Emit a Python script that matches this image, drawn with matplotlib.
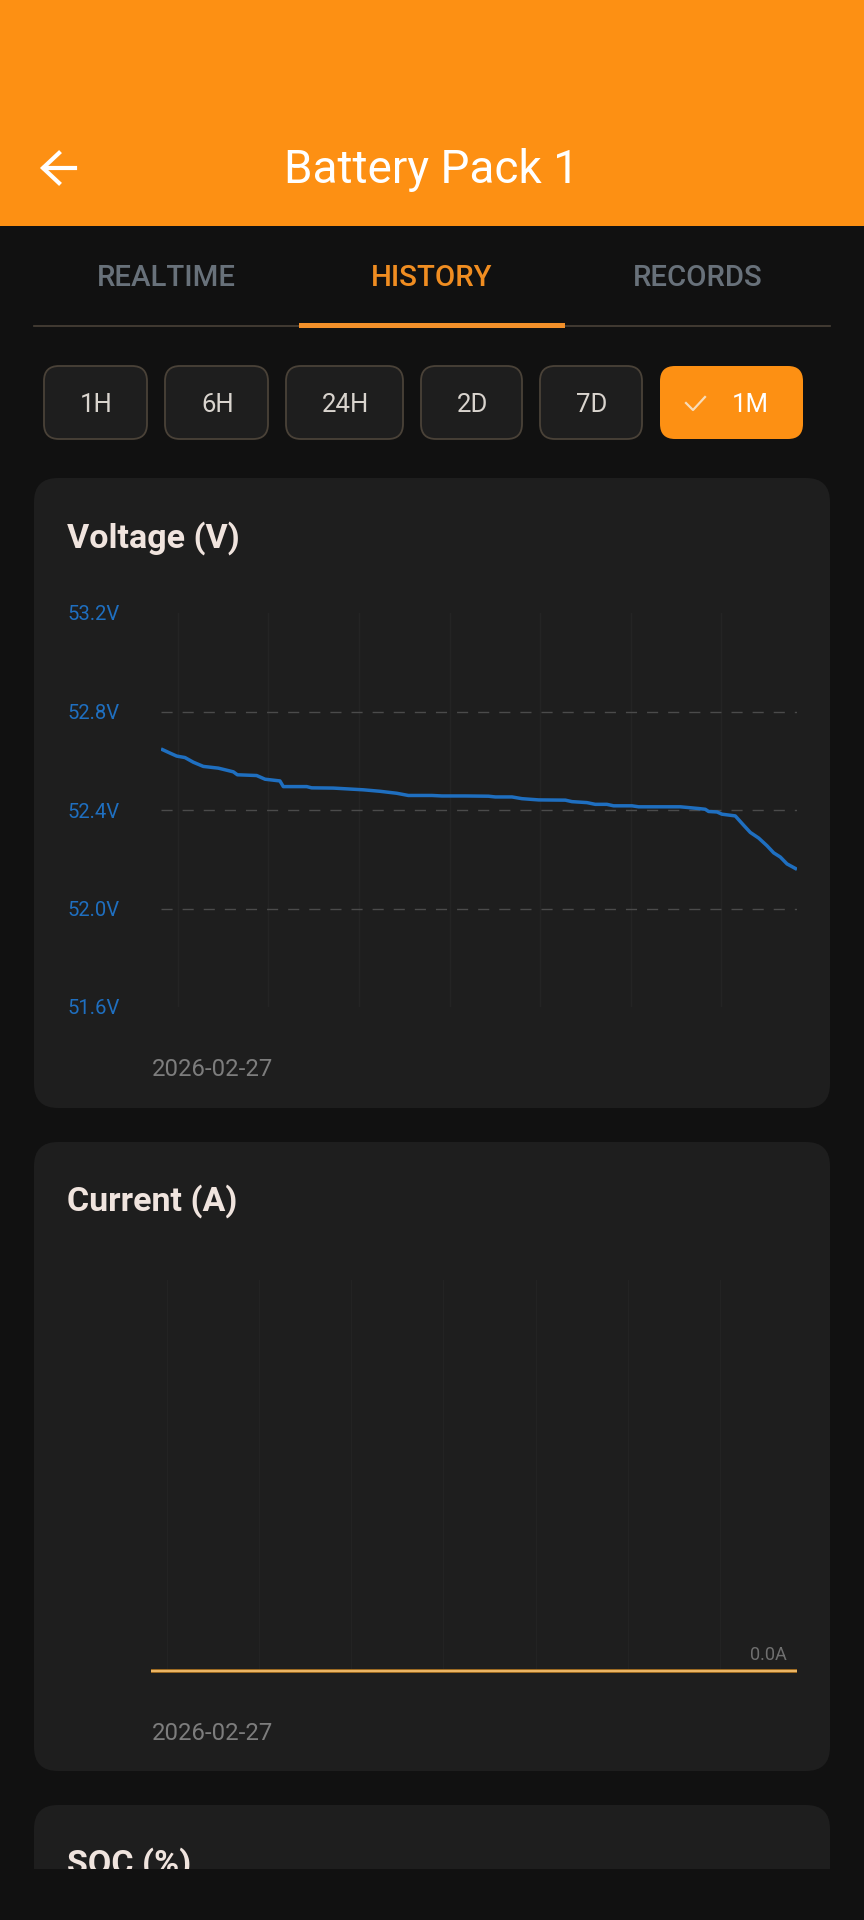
import matplotlib
matplotlib.use("Agg")
import matplotlib.pyplot as plt
from matplotlib.patches import FancyBboxPatch, Rectangle

plt.rcParams['font.family'] = ['Roboto', 'DejaVu Sans']

W, H = 864, 1920

# voltage history, x in days from the start of the window
volt_days = [0.0, 0.70, 1.21, 1.85, 2.50, 3.27, 4.43, 5.59, 5.90, 7.39, 8.04, 9.19, 9.45,
             11.26, 11.64, 13.31, 15.63, 16.92, 18.21, 19.11, 20.94, 21.71, 23.5, 25.3,
             25.83, 27.12, 27.89, 29.18, 31.24, 31.75, 32.91, 33.55, 34.45, 34.97, 36.39,
             36.9, 40.12, 41.54, 42.05, 42.31, 42.96, 43.34, 44.37, 45.02, 45.53, 46.18,
             46.82, 47.34, 47.85, 48.37, 49.14]
volt_values = [52.648, 52.631, 52.619, 52.613, 52.594, 52.577, 52.570, 52.555, 52.543, 52.540,
               52.525, 52.518, 52.495, 52.495, 52.490, 52.489, 52.482, 52.476, 52.468, 52.459,
               52.459, 52.457, 52.457, 52.456, 52.453, 52.453, 52.446, 52.441, 52.440, 52.434,
               52.430, 52.423, 52.423, 52.417, 52.417, 52.413, 52.413, 52.406, 52.403, 52.394,
               52.392, 52.383, 52.376, 52.338, 52.309, 52.286, 52.255, 52.226, 52.209, 52.181,
               52.159]
volt_ticks = [51.6, 52.0, 52.4, 52.8, 53.2]
volt_tick_labels = ['51.6V', '52.0V', '52.4V', '52.8V', '53.2V']
volt_grid = [52.0, 52.4, 52.8]
volt_week_lines = [1.3, 8.3, 15.3, 22.3, 29.3, 36.3, 43.3]

curr_days = [0, 49]
curr_values = [0.0, 0.0]
curr_week_lines = [1.18, 8.18, 15.18, 22.18, 29.18, 36.18, 43.18]

tabs = ['REALTIME', 'HISTORY', 'RECORDS']
ranges = ['1H', '6H', '24H', '2D', '7D', '1M']

ORANGE = '#fd9013'
BG = '#111111'
CARD = '#1e1e1e'
BLUE = '#1f6fc0'


def box(ui, x0, y0, x1, y1, r, fc, ec='none', lw=0, z=1):
    ui.add_patch(FancyBboxPatch((x0 + r, y0 + r), x1 - x0 - 2 * r, y1 - y0 - 2 * r,
                                boxstyle=f'round,pad={r},rounding_size={r}',
                                fc=fc, ec=ec, lw=lw, zorder=z))


def chart_axes(x0, y0, x1, y1):
    ax = fig.add_axes([x0 / W, 1 - y1 / H, (x1 - x0) / W, (y1 - y0) / H], zorder=2)
    ax.patch.set_alpha(0)
    for s in ax.spines.values():
        s.set_visible(False)
    return ax


fig = plt.figure(figsize=(W / 100, H / 100), dpi=100, facecolor=BG)

# full size layer in pixels for the app screen around the charts
ui = fig.add_axes([0, 0, 1, 1], zorder=1)
ui.set_xlim(0, W)
ui.set_ylim(H, 0)
ui.axis('off')

# header
ui.add_patch(Rectangle((0, 0), W, 226, fc=ORANGE, ec='none'))
ui.text(431, 169.5, 'Battery Pack 1', color='white', fontsize=33, ha='center', va='center')
ui.plot([44, 75], [168, 168], color='white', lw=3)
ui.plot([59, 43, 59], [153, 168, 183], color='white', lw=3, solid_joinstyle='miter')

# tabs
tab_x = [166, 432, 698]
tab_col = ['#68717a', '#f08d21', '#68717a']
for t, x, c in zip(tabs, tab_x, tab_col):
    ui.text(x, 277.5, t, color=c, fontsize=21.2, fontweight='medium', ha='center', va='center')
ui.plot([34, 830], [326, 326], color='#4a4238', lw=1.2)
ui.add_patch(Rectangle((299, 323), 266, 4.5, fc='#f2902a', ec='none', zorder=2))

# range chips
chip_x = [(44, 147), (165, 268), (286, 403), (421, 522), (540, 642), (660, 803)]
for i, (lab, (x0, x1)) in enumerate(zip(ranges, chip_x)):
    active = lab == '1M'
    box(ui, x0, 366, x1, 439, 15, ORANGE if active else '#1e1e1e',
        ec='none' if active else '#4a4238', lw=1.3)
    if active:
        ui.plot([686, 693, 705], [403, 410, 397], color='#f8dcb8', lw=1.6)
        ui.text(750, 405.5, lab, color='white', fontsize=18.5, ha='center', va='center')
    else:
        ui.text((x0 + x1) / 2 + 1, 405.5, lab, color='#d9d4ce', fontsize=18.5, ha='center', va='center')

# cards
box(ui, 34, 478, 830, 1108, 24, CARD)
box(ui, 34, 1142, 830, 1771, 24, CARD)
box(ui, 34, 1805, 830, 1900, 24, CARD)
title_col = '#f0e4de'
ui.text(67, 538, 'Voltage (V)', color=title_col, fontsize=24.5, fontweight='semibold', va='center')
ui.text(67, 1201, 'Current (A)', color=title_col, fontsize=24.5, fontweight='semibold', va='center')
ui.text(67, 1864, 'SOC (%)', color=title_col, fontsize=24.5, fontweight='semibold', va='center')
ui.add_patch(Rectangle((0, 1869), W, 51, fc=BG, ec='none', zorder=5))

ui.text(152, 1070, '2026-02-27', color='#7d7d7d', fontsize=17.2, va='center')
ui.text(152, 1734, '2026-02-27', color='#7d7d7d', fontsize=17.2, va='center')

# voltage chart
ax = chart_axes(161, 613, 797, 1007)
ax.set_xlim(0, 49.14)
ax.set_ylim(51.6, 53.2)
ax.set_xticks([])
ax.set_yticks(volt_ticks)
ax.set_yticklabels(volt_tick_labels, ha='left')
ax.tick_params(axis='y', length=0, pad=67, labelsize=14.6, labelcolor=BLUE)
for d in volt_week_lines:
    ax.axvline(d, color='#242424', lw=1, zorder=1)
for v in volt_grid:
    ax.axhline(v, color='#4b4b4b', lw=1, linestyle=(0, (8, 7.2)), zorder=2)
ax.plot(volt_days, volt_values, color=BLUE, lw=2.5, zorder=3, solid_capstyle='butt')

# current chart, flat at zero
ax2 = chart_axes(151, 1280, 797, 1671)
ax2.set_xlim(0, 49)
ax2.set_ylim(0, 1)
ax2.set_xticks([])
ax2.set_yticks([])
for d in curr_week_lines:
    ax2.axvline(d, color='#232323', lw=1, zorder=1)
ax2.plot(curr_days, curr_values, color='#b87a22', lw=2.6, zorder=3, clip_on=False, solid_capstyle='butt')
ax2.plot(curr_days, curr_values, color='#f6c272', lw=1.2, zorder=4, clip_on=False, solid_capstyle='butt')
ax2.text(0.985, 0.04, '0.0A', color='#6f6f6f', fontsize=13, transform=ax2.transAxes,
         ha='right', va='center')

fig.savefig('out.png', dpi=100, facecolor=BG)
